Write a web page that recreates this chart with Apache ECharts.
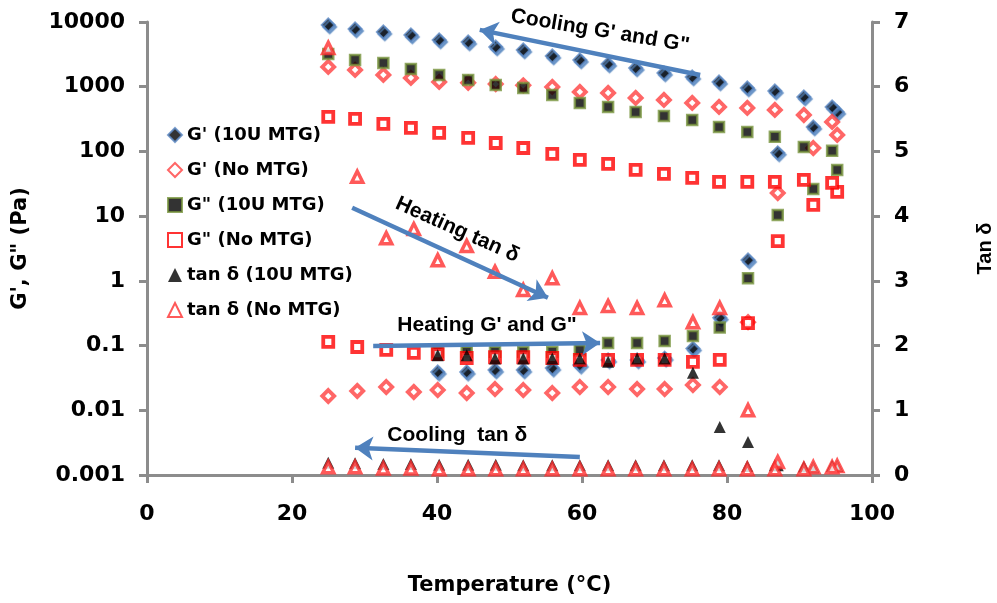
<!DOCTYPE html>
<html>
<head>
<meta charset="utf-8">
<script src="https://cdn.jsdelivr.net/npm/echarts@6/dist/echarts.min.js"></script>
<style>
  html, body { margin: 0; padding: 0; background: #ffffff; }
  #chart { width: 997px; height: 603px; }
</style>
</head>
<body>
<div id="chart"></div>
<script>
// Temperatures (°C) of the heating ramp and of the cooling ramp
const heatT = [25, 29, 33, 36.8, 40.1, 44.1, 48, 51.9, 55.9, 59.7, 63.6, 67.6, 71.4, 75.3, 79, 82.9, 87, 91.9, 95.2];
const coolT = [94.5, 90.6, 86.6, 82.8, 78.9, 75.2, 71.3, 67.4, 63.6, 59.7, 55.9, 51.9, 48.1, 44.3, 40.3, 36.4, 32.6, 28.7, 25];

// G' (Pa), 10U MTG
const gp10Heat = [null, null, null, null, 0.039, 0.039, 0.042, 0.042, 0.045, 0.05, 0.06, 0.06, 0.064, 0.09, 0.27, 2.1, 95, 239, 408];
const gp10Cool = [487, 695, 861, 958, 1187, 1416, 1633, 1951, 2250, 2596, 2993, 3705, 4124, 4923, 5290, 6323, 7031, 7820, 9020];
// G' (Pa), no MTG
const gpNoHeat = [0.0166, 0.0199, 0.0229, 0.0192, 0.0206, 0.0185, 0.0213, 0.0206, 0.0185, 0.0229, 0.0229, 0.0213, 0.0213, 0.0246, 0.0229, 0.23, 22.8, 113, 180];
const gpNoCool = [286, 366, 438, 470, 487, 562, 625, 671, 802, 832, 993, 1050, 1100, 1150, 1187, 1367, 1521, 1819, 2023];
// G" (Pa), 10U MTG
const gpp10Heat = [null, null, null, null, 0.08, 0.08, 0.08, 0.08, 0.08, 0.085, 0.11, 0.11, 0.118, 0.141, 0.19, 1.1, 10.4, 26.3, 51.8];
const gpp10Cool = [102, 117, 168, 200, 239, 307, 354, 408, 488, 562, 747, 958, 1067, 1274, 1521, 1884, 2333, 2596, 3200];
// G" (Pa), no MTG
const gppNoHeat = [0.114, 0.095, 0.0855, 0.0769, 0.074, 0.0643, 0.066, 0.066, 0.0643, 0.06, 0.06, 0.06, 0.06, 0.0558, 0.06, 0.223, 4.1, 14.9, 23.7];
const gppNoCool = [32.6, 36.3, 33.8, 33.8, 33.8, 38.9, 44.9, 51.8, 64.1, 73.9, 91.5, 113, 135, 162, 193, 231, 266, 318, 341];
// tan δ, 10U MTG
const tan10Heat = [null, null, null, null, 1.85, 1.85, 1.8, 1.8, 1.8, 1.8, 1.75, 1.8, 1.8, 1.58, 0.74, 0.51, 0.15, 0.12, 0.14];
const tan10Cool = [0.14, 0.13, 0.15, 0.14, 0.15, 0.15, 0.15, 0.15, 0.15, 0.15, 0.15, 0.15, 0.16, 0.16, 0.16, 0.17, 0.17, 0.18, 0.19];
// tan δ, no MTG
const tanNoHeat = [6.6, 4.61, 3.66, 3.8, 3.32, 3.54, 3.14, 2.86, 3.04, 2.58, 2.61, 2.58, 2.7, 2.36, 2.58, 1.0, 0.2, 0.12, 0.14];
const tanNoCool = [0.12, 0.09, 0.09, 0.09, 0.09, 0.09, 0.09, 0.09, 0.09, 0.09, 0.09, 0.09, 0.09, 0.09, 0.09, 0.1, 0.1, 0.12, 0.12];

const seriesNames = ["G' (10U MTG)", "G' (No MTG)", 'G" (10U MTG)', 'G" (No MTG)', 'tan δ (10U MTG)', 'tan δ (No MTG)'];
const xTickLabels = ['0', '20', '40', '60', '80', '100'];
const leftTickLabels = ['0.001', '0.01', '0.1', '1', '10', '100', '1000', '10000'];
const rightTickLabels = ['0', '1', '2', '3', '4', '5', '6', '7'];

// join a heating and a cooling ramp into [T, value] points
function ramp(heat, cool) {
  const pts = [];
  heat.forEach((v, i) => { if (v != null) pts.push([heatT[i], v]); });
  cool.forEach((v, i) => { if (v != null) pts.push([coolT[i], v]); });
  return pts;
}

const GREY = '#8c8c8c';
const ARROW_BLUE = '#4f81bd';
const tickFont = { fontFamily: 'DejaVu Sans', fontWeight: 'bold', fontSize: 22, color: '#000' };

const axisLine = { show: true, onZero: false, lineStyle: { color: GREY, width: 3 } };
const axisTick = { show: true, inside: false, length: 8, lineStyle: { color: GREY, width: 3 } };

const arrowStyle = {
  silent: true,
  animation: false,
  symbol: ['none', 'arrow'],
  symbolSize: 18,
  label: { show: false },
  emphasis: { disabled: true },
  lineStyle: { color: ARROW_BLUE, width: 4.5, type: 'solid', opacity: 1 }
};

const chart = echarts.init(document.getElementById('chart'), null, { renderer: 'canvas' });

const option = {
  animation: false,
  backgroundColor: '#ffffff',
  grid: { left: 147, right: 125, top: 22, bottom: 128, containLabel: false, outerBoundsMode: 'none' },
  legend: {
    orient: 'vertical',
    left: 162,
    top: 120,
    itemGap: 15,
    itemWidth: 14,
    itemHeight: 14,
    selectedMode: false,
    data: seriesNames,
    textStyle: { fontFamily: 'DejaVu Sans', fontWeight: 'bold', fontSize: 18, color: '#000', lineHeight: 20 }
  },
  xAxis: {
    type: 'value',
    min: 0, max: 100, interval: 20,
    axisLine: axisLine,
    axisTick: axisTick,
    splitLine: { show: false },
    axisLabel: Object.assign({ margin: 28, formatter: v => xTickLabels[Math.round(v / 20)] }, tickFont),
    name: 'Temperature (°C)',
    nameLocation: 'middle',
    nameGap: 100,
    nameTextStyle: { fontFamily: 'DejaVu Sans', fontWeight: 'bold', fontSize: 21, color: '#000' }
  },
  yAxis: [
    {
      type: 'log', logBase: 10,
      min: 0.001, max: 10000,
      position: 'left',
      axisLine: axisLine,
      axisTick: axisTick,
      minorTick: { show: false },
      splitLine: { show: false },
      axisLabel: Object.assign({
        margin: 22,
        formatter: v => leftTickLabels[Math.round(Math.log10(v)) + 3]
      }, tickFont),
      name: 'G\', G" (Pa)',
      nameLocation: 'middle',
      nameRotate: 90,
      nameGap: 116,
      nameTextStyle: { fontFamily: 'DejaVu Sans', fontWeight: 'bold', fontSize: 21, color: '#000' }
    },
    {
      type: 'value',
      min: 0, max: 7, interval: 1,
      position: 'right',
      axisLine: axisLine,
      axisTick: axisTick,
      splitLine: { show: false },
      axisLabel: Object.assign({ margin: 22, formatter: v => rightTickLabels[Math.round(v)] }, tickFont),
      name: 'Tan δ',
      nameLocation: 'middle',
      nameRotate: 90,
      nameGap: 103,
      nameTextStyle: { fontFamily: 'Liberation Sans', fontWeight: 'bold', fontSize: 20, color: '#000' }
    }
  ],
  series: [
    {
      name: seriesNames[0], type: 'scatter', yAxisIndex: 0,
      symbol: 'diamond', symbolSize: 13,
      itemStyle: { color: '#000', borderColor: '#5b88c4', borderWidth: 2, shadowColor: 'rgba(79,129,189,0.9)', shadowOffsetX: 1.5, shadowOffsetY: 2, shadowBlur: 1 },
      data: ramp(gp10Heat, gp10Cool),
      markLine: Object.assign({}, arrowStyle, {
        data: [
          [{ coord: [76.3, 1520] }, { coord: [45.9, 7550] }],
          [{ coord: [31.2, 0.0986] }, { coord: [62.5, 0.1096] }]
        ]
      })
    },
    {
      name: seriesNames[1], type: 'scatter', yAxisIndex: 0,
      symbol: 'diamond', symbolSize: 12,
      itemStyle: { color: '#ffffff', borderColor: '#ff4040', borderWidth: 3.8 },
      data: ramp(gpNoHeat, gpNoCool)
    },
    {
      name: seriesNames[2], type: 'scatter', yAxisIndex: 0,
      symbol: 'rect', symbolSize: 10,
      itemStyle: { color: '#000', borderColor: '#77933c', borderWidth: 2.5 },
      data: ramp(gpp10Heat, gpp10Cool)
    },
    {
      name: seriesNames[3], type: 'scatter', yAxisIndex: 0,
      symbol: 'rect', symbolSize: 10,
      itemStyle: { color: '#ffffff', borderColor: '#ff0000', borderWidth: 3.8 },
      data: ramp(gppNoHeat, gppNoCool)
    },
    {
      name: seriesNames[4], type: 'scatter', yAxisIndex: 1,
      symbol: 'triangle', symbolSize: 12,
      itemStyle: { color: '#000' },
      data: ramp(tan10Heat, tan10Cool),
      markLine: Object.assign({}, arrowStyle, {
        data: [
          [{ coord: [28.3, 4.13] }, { coord: [55.3, 2.74] }],
          [{ coord: [59.7, 0.28] }, { coord: [28.7, 0.42] }]
        ]
      })
    },
    {
      name: seriesNames[5], type: 'scatter', yAxisIndex: 1,
      symbol: 'triangle', symbolSize: 11,
      itemStyle: { color: '#ffffff', borderColor: '#ff3030', borderWidth: 3.5 },
      data: ramp(tanNoHeat, tanNoCool)
    }
  ]
};

chart.setOption(option);

// Annotation texts, anchored in data space of the left (seriesIndex 0) or right (seriesIndex 4) axis
const notes = [
  { text: 'Cooling G\' and G"', series: 0, at: [62.5, 7280], angle: -9.5 },
  { text: 'Heating tan δ', series: 4, at: [42.8, 3.79], angle: -24 },
  { text: 'Heating G\' and G"', series: 0, at: [46.9, 0.208], angle: 0 },
  { text: 'Cooling  tan δ', series: 4, at: [42.8, 0.62], angle: 0 }
];

chart.setOption({
  graphic: notes.map(n => {
    const p = chart.convertToPixel({ seriesIndex: n.series }, n.at);
    return {
      type: 'text',
      x: p[0], y: p[1],
      rotation: n.angle * Math.PI / 180,
      silent: true,
      style: {
        text: n.text,
        x: 0, y: 0,
        font: 'bold 21px "Liberation Sans"',
        fill: '#000',
        align: 'center', verticalAlign: 'middle',
        textAlign: 'center', textVerticalAlign: 'middle'
      }
    };
  })
});
</script>
</body>
</html>
